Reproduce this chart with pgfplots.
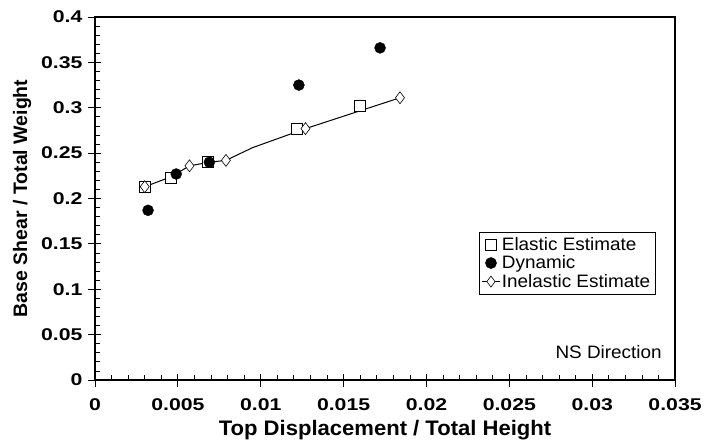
\documentclass[border=0pt]{standalone}
\usepackage{fontspec}
\setmainfont{Liberation Sans}
\newfontfamily\tickfont{Liberation Sans}[FakeStretch=1.25]
\newfontfamily\widefont{Liberation Sans}[FakeStretch=1.05]
\usepackage{pgfplots}
\pgfplotsset{compat=1.18}

% Elastic / dynamic points and the inelastic curve
\pgfplotstableread{
x y
0.0030 0.213
0.0046 0.223
0.0068 0.241
0.0122 0.277
0.0160 0.302
}\elastic
\pgfplotstableread{
x y
0.0032 0.187
0.0049 0.227
0.0069 0.240
0.0123 0.325
0.0172 0.366
}\dynamic
\pgfplotstableread{
x y
0.0030 0.213
0.0046 0.224
0.0057 0.236
0.0069 0.240
0.0079 0.242
0.0095 0.256
0.0127 0.277
0.0184 0.311
}\inelline
\pgfplotstableread{
x y
0.0030 0.213
0.0057 0.236
0.0079 0.242
0.0127 0.277
0.0184 0.311
}\inelmarks

\begin{document}
\begin{tikzpicture}
\begin{axis}[
  scale only axis, width=580pt, height=363pt,
  xmin=0, xmax=0.035, ymin=0, ymax=0.4,
  xtick={0,0.005,...,0.035}, ytick={0,0.05,...,0.4},
  scaled x ticks=false, scaled y ticks=false,
  minor x tick num=4, minor y tick num=4,
  xtick pos=left, ytick pos=left,
  tick align=inside, major tick length=13pt, minor tick length=5pt,
  every major x tick/.append style={yshift=-7pt},
  every major y tick/.append style={xshift=-7pt},
  tick style={black, line width=0.8pt},
  axis line style={line width=1.6pt},
  xticklabel style={/pgf/number format/fixed, /pgf/number format/precision=3, yshift=-15pt},
  yticklabel style={/pgf/number format/fixed, /pgf/number format/precision=2, xshift=-9pt},
  /pgf/number format/assume math mode=true,
  tick label style={font=\tickfont\bfseries\fontsize{17}{20}\selectfont},
  xlabel={Top Displacement / Total Height},
  ylabel={Base Shear / Total Weight},
  xlabel style={font=\widefont\bfseries\fontsize{21}{24}\selectfont, yshift=-3pt},
  ylabel style={font=\bfseries\fontsize{19.5}{22}\selectfont, yshift=3pt},
  legend style={at={(0.966,0.408)}, anchor=north east, draw=black, line width=0.6pt,
    font=\widefont\fontsize{18}{21}\selectfont, row sep=0pt, inner sep=3pt},
  legend cell align=left,
  clip=false,
]
\addplot[only marks, mark=square*, mark size=5.5pt, mark options={fill=white, draw=black, line width=0.6pt}] table {\elastic};
\addlegendentry{Elastic Estimate}
\addplot[only marks, mark=*, mark size=5.5pt, mark options={fill=black, draw=black}] table {\dynamic};
\addlegendentry{Dynamic}
\addplot[black, line width=1pt, forget plot] table {\inelline};
\addplot[only marks, mark=diamond*, mark size=6pt, mark options={fill=white, draw=black, line width=0.6pt}, forget plot] table {\inelmarks};
\addlegendimage{black, line width=0.8pt, mark=diamond*, mark size=5.5pt, mark options={fill=white, draw=black, line width=0.6pt}}
\addlegendentry{Inelastic Estimate}
\node[anchor=east, font=\widefont\fontsize{18}{21}\selectfont] at (rel axis cs:0.983,0.077) {NS Direction};
% page margins on the left and top, as in the reference
\path (rel axis cs:0,0) ++(-95pt,0pt);
\path (rel axis cs:0,1) ++(0pt,17pt);
\end{axis}
\end{tikzpicture}
\end{document}
